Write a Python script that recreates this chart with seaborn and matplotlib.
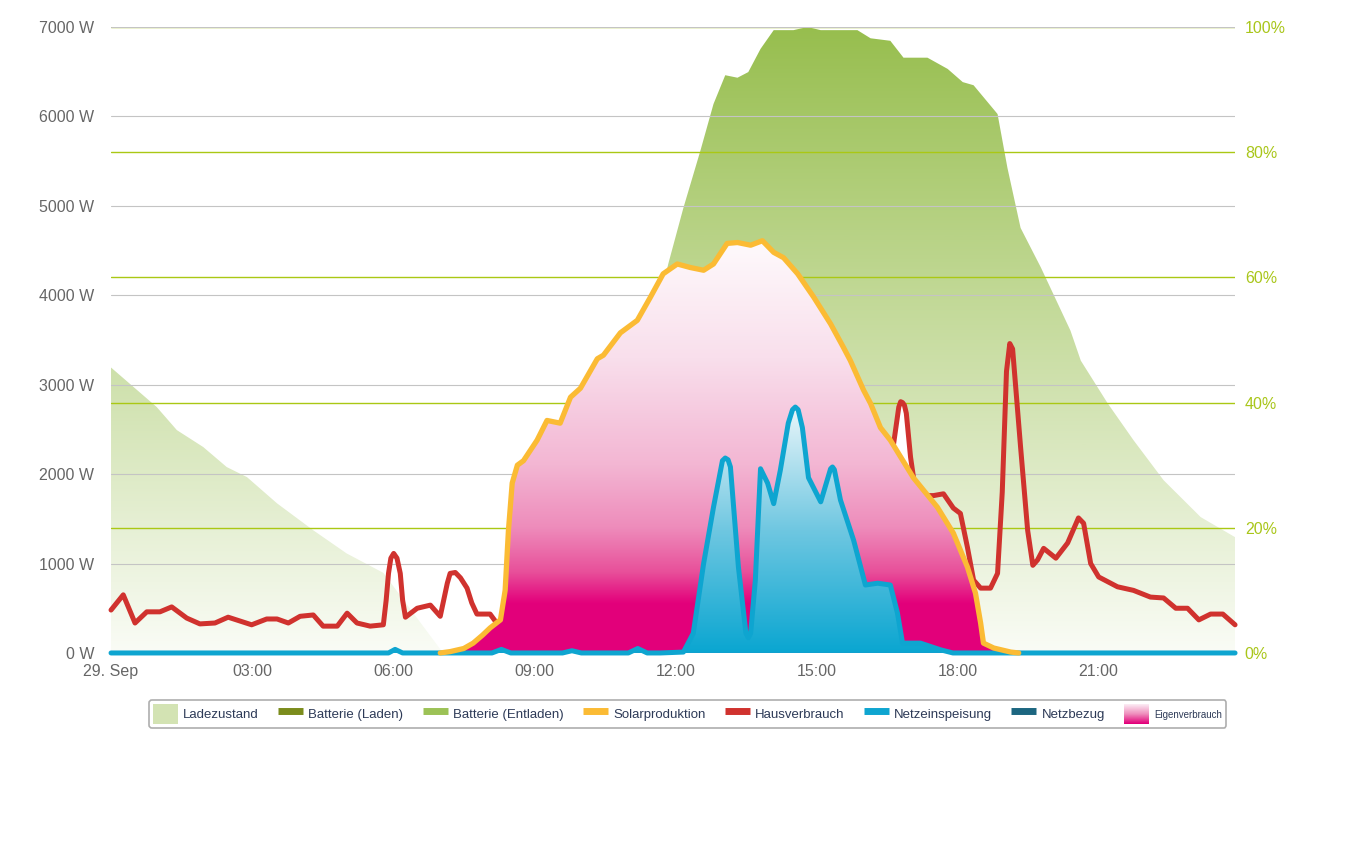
import numpy as np
import pandas as pd
import matplotlib
matplotlib.use("Agg")
import matplotlib.pyplot as plt
import seaborn as sns
from matplotlib.colors import LinearSegmentedColormap
from matplotlib.patches import Rectangle, Patch
from matplotlib.lines import Line2D
from matplotlib.legend_handler import HandlerBase

# ---------------- data ----------------
# state of charge (Ladezustand), percent, time in hours
soc_t = [0, 0.97, 1.40, 1.96, 2.46, 2.89, 3.53, 4.30, 5.01, 5.79, 7.06, 9.5, 10.0, 10.5,
         11.0, 11.5, 11.85, 12.17, 12.53, 12.81, 13.06, 13.32, 13.55, 13.81, 14.09, 14.51,
         14.81, 15.09, 15.87, 16.15, 16.57, 16.85, 17.36, 17.79, 18.11, 18.34, 18.85, 19.06,
         19.34, 19.77, 20.40, 20.62, 21.19, 21.74, 22.38, 23.17, 23.9]
soc = [45.6, 39.3, 35.6, 32.9, 29.7, 28.1, 23.9, 19.6, 15.9, 12.8, 0.0, 0.0, 13, 26,
       39, 51, 62.2, 71.1, 80.2, 87.7, 92.3, 91.9, 92.8, 96.5, 99.5, 99.5,
       100, 99.5, 99.5, 98.2, 97.8, 95.1, 95.1, 93.3, 91.2, 90.7, 86.1, 77.5,
       67.9, 61.6, 51.5, 46.7, 39.9, 34.0, 27.6, 21.7, 18.5]

# Solarproduktion, W
sol_t = [7.0, 7.21, 7.50, 7.70, 7.90, 8.06, 8.28, 8.38, 8.45, 8.53, 8.64, 8.77, 9.06, 9.27,
         9.55, 9.77, 9.98, 10.34, 10.47, 10.83, 11.19, 11.47, 11.74, 12.04, 12.32, 12.60,
         12.81, 13.10, 13.32, 13.60, 13.85, 14.09, 14.30, 14.60, 14.94, 15.30, 15.57, 15.72,
         16.0, 16.15, 16.36, 16.57, 17.06, 17.57, 17.91, 18.21, 18.38, 18.49, 18.55, 18.77,
         19.13, 19.3]
sol = [0, 15, 50, 110, 200, 280, 370, 700, 1370, 1900, 2100, 2150, 2380, 2600,
       2570, 2860, 2960, 3290, 3330, 3580, 3720, 3980, 4240, 4350, 4310, 4280,
       4350, 4580, 4590, 4560, 4610, 4480, 4420, 4240, 3980, 3680, 3420, 3270,
       2940, 2790, 2520, 2380, 1960, 1630, 1340, 960, 670, 335, 110, 55,
       10, 0]

# Hausverbrauch, W
haus_t = [0, 0.26, 0.51, 0.76, 1.04, 1.29, 1.61, 1.89, 2.21, 2.49, 2.99, 3.31, 3.53, 3.77,
          4.02, 4.30, 4.51, 4.81, 5.02, 5.23, 5.51, 5.79, 5.85, 5.90, 5.95, 6.01, 6.08, 6.15,
          6.20, 6.26, 6.51, 6.79, 7.0, 7.15, 7.21, 7.32, 7.43, 7.57, 7.67, 7.78, 8.06, 8.2,
          8.6, 9.5, 10.5, 11.5, 12.5, 13.5, 14.5, 15.5, 16.2, 16.5, 16.64, 16.75, 16.79,
          16.83, 16.87, 16.91, 17.0, 17.08, 17.25, 17.49, 17.70, 17.91, 18.06, 18.21, 18.34,
          18.49, 18.70, 18.85, 18.95, 19.04, 19.11, 19.17, 19.34, 19.49, 19.60, 19.70, 19.83,
          20.09, 20.34, 20.57, 20.68, 20.83, 21.0, 21.40, 21.74, 22.1, 22.38, 22.64, 22.89,
          23.13, 23.38, 23.64, 23.9]
haus = [480, 650, 335, 460, 460, 515, 390, 325, 335, 400, 315, 380, 380, 335,
        410, 425, 300, 300, 445, 335, 300, 315, 590, 890, 1060, 1113, 1060, 890,
        590, 400, 500, 535, 410, 780, 890, 900, 840, 725, 560, 435, 435, 335,
        450, 500, 450, 500, 600, 700, 800, 1200, 2000, 2200, 2340, 2750, 2810,
        2800, 2770, 2680, 2190, 1900, 1760, 1760, 1780, 1620, 1560, 1180, 815,
        725, 725, 890, 1800, 3150, 3460, 3400, 2300, 1370, 980, 1040, 1170,
        1060, 1230, 1510, 1450, 1000, 850, 740, 700, 625, 615, 500, 500,
        370, 435, 435, 315]

# Netzeinspeisung, W
netz_t = [0, 5.9, 6.04, 6.2, 8.1, 8.3, 8.5, 9.6, 9.8, 10.0, 11.0, 11.2, 11.4, 11.68,
          12.17, 12.38, 12.60, 12.81, 13.0, 13.06, 13.12, 13.17, 13.34, 13.50, 13.55, 13.60,
          13.70, 13.81, 13.96, 14.09, 14.23, 14.40, 14.49, 14.55, 14.61, 14.70, 14.83, 15.09,
          15.30, 15.34, 15.38, 15.51, 15.79, 16.04, 16.30, 16.57, 16.72, 16.83, 17.21, 17.64,
          17.9, 23.9]
netz = [0, 0, 40, 0, 0, 40, 0, 0, 25, 0, 0, 50, 0, 0,
        10, 220, 1000, 1630, 2150, 2180, 2160, 2080, 960, 220, 170, 220,
        815, 2060, 1900, 1670, 2040, 2570, 2720, 2750, 2720, 2520, 1960, 1690,
        2060, 2080, 2050, 1710, 1260, 760, 780, 760, 450, 110, 110, 35,
        0, 0]

x_ticks = [0, 3, 6, 9, 12, 15, 18, 21]
x_labels = ["29. Sep", "03:00", "06:00", "09:00", "12:00", "15:00", "18:00", "21:00"]
w_ticks = [0, 1000, 2000, 3000, 4000, 5000, 6000, 7000]
w_labels = ["0 W", "1000 W", "2000 W", "3000 W", "4000 W", "5000 W", "6000 W", "7000 W"]
p_ticks = [0, 20, 40, 60, 80, 100]
p_labels = ["0%", "20%", "40%", "60%", "80%", "100%"]

legend_labels = ["Ladezustand", "Batterie (Laden)", "Batterie (Entladen)", "Solarproduktion",
                 "Hausverbrauch", "Netzeinspeisung", "Netzbezug", "Eigenverbrauch"]

# ---------------- style ----------------
sns.set_style("white")
plt.rcParams['font.family'] = ['Liberation Sans', 'DejaVu Sans']

C_SOL = "#fbbb34"
C_HAUS = "#d0322e"
C_NETZ = "#0ea5d0"
C_BEZUG = "#1c6680"
C_LADEN = "#7b8c1c"
C_ENTL = "#9cc256"
C_SOC = "#d3e3b3"

fig = plt.figure(figsize=(13.59, 8.55), dpi=100)
ax = fig.add_axes([0.0817, 0.2363, 0.8271, 0.7321])
ax2 = ax.twinx()
ax2.set_zorder(1)
ax.set_zorder(2)
ax.patch.set_visible(False)


def gradient_fill(axis, x, y, stops, vmax, z):
    poly = axis.fill_between(x, 0, y, facecolor="none", edgecolor="none", zorder=z)
    cmap = LinearSegmentedColormap.from_list("g", stops)
    grad = np.linspace(0, 1, 512).reshape(-1, 1)
    im = axis.imshow(grad, cmap=cmap, aspect="auto", origin="lower",
                     extent=[x[0], x[-1], 0, vmax], zorder=z, interpolation="bilinear")
    im.set_clip_path(poly.get_paths()[0], transform=axis.transData)
    return im


# Ladezustand on right axis
gradient_fill(ax2, np.array(soc_t), np.array(soc),
              [(0, "#fafcf6"), (1, "#97be4e")], 100, 1)

# white region inside the consumption spike above the solar curve
tt = np.linspace(16.55, 17.1, 80)
hs = np.interp(tt, haus_t, haus)
ss = np.interp(tt, sol_t, sol)
ax.fill_between(tt, ss, hs, where=hs > ss, color="white", zorder=1.5, linewidth=0)

# Hausverbrauch line (under solar area)
df_h = pd.DataFrame({"t": haus_t, "w": haus})
sns.lineplot(data=df_h, x="t", y="w", ax=ax, color=C_HAUS, linewidth=3.6, zorder=2,
             estimator=None, clip_on=False, solid_joinstyle="round", solid_capstyle="round")

# Eigenverbrauch (pink) under solar
smax = max(sol)
gradient_fill(ax, np.array(sol_t), np.array(sol),
              [(0, "#e2007a"), (550 / smax, "#e3007b"), (900 / smax, "#e8509a"),
               (1400 / smax, "#ee8cbb"), (2100 / smax, "#f3b6d3"), (3300 / smax, "#f9dfec"),
               (1, "#fefafc")], smax, 3)

# Netzeinspeisung area
nmax = max(netz)
gradient_fill(ax, np.array(netz_t), np.array(netz),
              [(0, "#0aa6d1"), (0.5, "#6fc7e1"), (1, "#eaf6fa")], nmax, 4)

df_n = pd.DataFrame({"t": netz_t, "w": netz})
sns.lineplot(data=df_n, x="t", y="w", ax=ax, color=C_NETZ, linewidth=3.6, zorder=5,
             estimator=None, clip_on=False, solid_joinstyle="round", solid_capstyle="round")

df_s = pd.DataFrame({"t": sol_t, "w": sol})
sns.lineplot(data=df_s, x="t", y="w", ax=ax, color=C_SOL, linewidth=3.8, zorder=6,
             estimator=None, clip_on=False, solid_joinstyle="round", solid_capstyle="round")

# ---------------- axes ----------------
ax.set_xlim(0, 23.9)
ax.set_ylim(0, 7000)
ax2.set_ylim(0, 100)
ax.set_xlabel("")
ax.set_ylabel("")

ax.set_yticks(w_ticks)
ax.set_yticklabels(w_labels)
ax.set_xticks(x_ticks)
ax.set_xticklabels(x_labels)
ax2.set_yticks(p_ticks)
ax2.set_yticklabels(p_labels)

ax.set_axisbelow(True)
ax.grid(axis="y", color="#c4c4c4", linewidth=0.8)
ax.grid(axis="x", visible=False)
ax2.set_axisbelow(False)
ax2.grid(axis="y", color="#aac814", linewidth=1.0)
ax2.grid(axis="x", visible=False)

ax.tick_params(axis="y", length=0, pad=12, labelcolor="#666666", labelsize=11.5)
ax.tick_params(axis="x", length=5, width=1, color="#c8d4e0", pad=3,
               labelcolor="#666666", labelsize=11.5)
ax2.tick_params(axis="y", length=0, pad=7, labelcolor="#a9c61a", labelsize=11.5)

for a in (ax, ax2):
    for s in a.spines.values():
        s.set_visible(False)


# ---------------- legend ----------------
class GradHandler(HandlerBase):
    def __init__(self, colors):
        super().__init__()
        self.colors = colors

    def create_artists(self, legend, orig_handle, xdescent, ydescent, width, height,
                       fontsize, trans):
        n = len(self.colors)
        arts = []
        for i, c in enumerate(self.colors):
            r = Rectangle((-xdescent, -ydescent + height * i / n), width, height / n * 1.05,
                          facecolor=c, edgecolor="none", transform=trans)
            arts.append(r)
        return arts


grad_colors = list(LinearSegmentedColormap.from_list(
    "lg", ["#e2007a", "#ee8cbb", "#fbe8f2"])(np.linspace(0, 1, 20)))
grad_proxy = Patch(facecolor="#ee8cbb")

handles = [Patch(facecolor=C_SOC, edgecolor="none"),
           Line2D([], [], color=C_LADEN, lw=5, solid_capstyle="butt"),
           Line2D([], [], color=C_ENTL, lw=5, solid_capstyle="butt"),
           Line2D([], [], color=C_SOL, lw=5, solid_capstyle="butt"),
           Line2D([], [], color=C_HAUS, lw=5, solid_capstyle="butt"),
           Line2D([], [], color=C_NETZ, lw=5, solid_capstyle="butt"),
           Line2D([], [], color=C_BEZUG, lw=5, solid_capstyle="butt"),
           grad_proxy]

leg = fig.legend(handles, legend_labels, loc="center", bbox_to_anchor=(0.5059, 0.1649),
                 ncol=8, frameon=True, fancybox=True, edgecolor="#9a9a9a", facecolor="white",
                 fontsize=9.5, handlelength=1.9, handleheight=1.9, handletextpad=0.4,
                 columnspacing=1.45, borderpad=0.3, labelcolor="#2d3a57",
                 handler_map={grad_proxy: GradHandler(grad_colors)})
leg.get_frame().set_linewidth(1.2)
leg.get_texts()[-1].set_fontsize(7)

fig.savefig("out.png", dpi=100)
